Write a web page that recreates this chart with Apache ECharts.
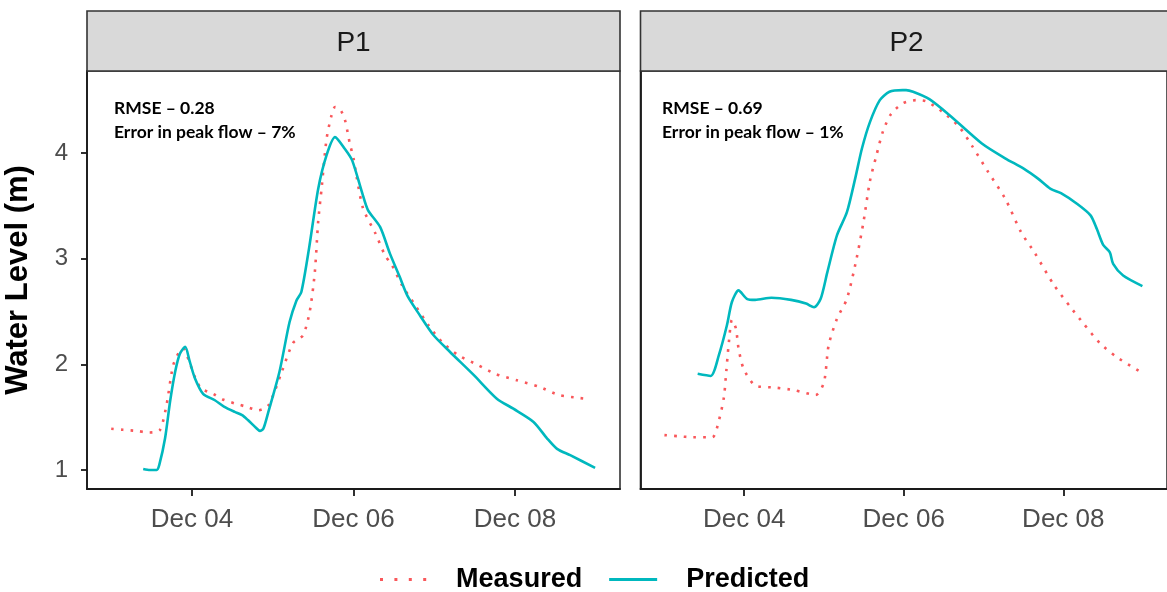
<!DOCTYPE html>
<html>
<head>
<meta charset="utf-8">
<script src="https://cdn.jsdelivr.net/npm/echarts@6/dist/echarts.min.js"></script>
<style>
  html, body { margin: 0; padding: 0; background: #fff; }
  #chart { width: 1167px; height: 592px; }
</style>
</head>
<body>
<div id="chart"></div>
<script>
// Hours after Dec 03 00:00 and water level (m) for each gauge
const p1MeasuredHours = [0, 3.5, 7.5, 11, 14.4, 16.4, 18.4, 20.4, 21.5, 22.9, 25, 26.8, 30.3, 33, 36.7, 40, 43.7, 46.7, 50.7, 54, 57, 59, 60.5, 61.5, 62.5, 64, 65.5, 66.5, 67.9, 69.4, 70.9, 72, 73, 74.9, 78.5, 81.4, 83.4, 86.4, 90.3, 94.3, 98.3, 103.2, 109.2, 114.1, 120.5, 127, 133, 139.4, 142.3];
const p1Measured = [1.39, 1.38, 1.37, 1.355, 1.375, 1.61, 1.99, 2.13, 2.15, 2.05, 1.87, 1.77, 1.72, 1.67, 1.63, 1.6, 1.565, 1.61, 1.93, 2.2, 2.275, 2.5, 2.87, 3.35, 3.66, 4.135, 4.36, 4.435, 4.42, 4.32, 4.09, 3.95, 3.76, 3.47, 3.24, 3.03, 2.94, 2.75, 2.56, 2.37, 2.21, 2.085, 1.99, 1.91, 1.85, 1.79, 1.71, 1.68, 1.67];

const p1PredictedHours = [9.5, 11.5, 13.5, 14.3, 16, 17.5, 19, 20.4, 22, 23.3, 24.9, 27.3, 30.8, 33.5, 36.7, 38.9, 40.7, 43, 44.2, 45.2, 46.7, 50, 53, 55, 56.5, 58.8, 61.5, 64, 66.5, 69.4, 71.6, 74.6, 76.3, 79.9, 82.8, 85.7, 88, 91.8, 95.8, 100.7, 107.7, 114.6, 119.5, 125.5, 129.5, 132.5, 136.4, 143.8];
const p1Predicted = [1.01, 1.0, 1.0, 1.05, 1.3, 1.65, 1.93, 2.1, 2.165, 2.03, 1.865, 1.72, 1.66, 1.6, 1.55, 1.52, 1.47, 1.4, 1.37, 1.39, 1.55, 1.93, 2.4, 2.6, 2.685, 3.1, 3.66, 3.98, 4.15, 4.04, 3.93, 3.62, 3.46, 3.3, 3.05, 2.83, 2.65, 2.46, 2.275, 2.117, 1.9, 1.675, 1.58, 1.455, 1.3, 1.2, 1.14, 1.02];

const p2MeasuredHours = [0, 4, 8.5, 14.4, 16.4, 17.9, 18.6, 19.3, 20.3, 21.5, 22.3, 23.8, 27.3, 33.2, 39.1, 45.5, 48, 49.4, 51.9, 54.9, 57.8, 59.9, 61.8, 63.8, 65.8, 68.2, 71.7, 75.7, 78.7, 83.6, 88.6, 92.5, 97.4, 102.5, 107.3, 111.3, 117.2, 122.2, 126.1, 131, 136, 142.9];
const p2Measured = [1.33, 1.32, 1.31, 1.31, 1.47, 1.69, 1.93, 2.18, 2.42, 2.34, 2.15, 1.96, 1.8, 1.78, 1.755, 1.71, 1.83, 2.18, 2.43, 2.62, 3.0, 3.35, 3.73, 3.98, 4.21, 4.37, 4.47, 4.5, 4.49, 4.39, 4.25, 4.07, 3.82, 3.57, 3.25, 3.06, 2.75, 2.54, 2.385, 2.2, 2.07, 1.935];

const p2PredictedHours = [10, 13.9, 16.4, 18.8, 20.3, 22.3, 24.8, 27.3, 32.2, 38.1, 42.6, 45, 47, 49, 51.9, 54.9, 57.4, 59.4, 61.8, 64.8, 67.7, 71.7, 72.7, 74.8, 79.7, 85.7, 95.5, 102.5, 108.2, 112.3, 116.2, 119.3, 124.1, 128.2, 130.1, 132, 134, 135, 138, 143.8];
const p2Predicted = [1.91, 1.89, 2.09, 2.37, 2.59, 2.7, 2.62, 2.61, 2.63, 2.61, 2.575, 2.54, 2.62, 2.87, 3.22, 3.44, 3.76, 4.04, 4.29, 4.5, 4.58, 4.595, 4.595, 4.58, 4.51, 4.36, 4.09, 3.95, 3.85, 3.76, 3.66, 3.62, 3.52, 3.41, 3.28, 3.13, 3.06, 2.95, 2.84, 2.74];

const panels = ['P1', 'P2'];
const rmse = ['RMSE \u2013 0.28', 'RMSE \u2013 0.69'];
const peakError = ['Error in peak flow \u2013 7%', 'Error in peak flow \u2013 1%'];
const yTicks = [1, 2, 3, 4];
const xTickDays = [4, 6, 8];   // December days labelled on the time axis

const MONTHS = ['Jan','Feb','Mar','Apr','May','Jun','Jul','Aug','Sep','Oct','Nov','Dec'];
const HOUR = 3600 * 1000;
const base = Date.UTC(2019, 11, 3);
const toPairs = (hours, vals) => hours.map((h, i) => [base + h * HOUR, vals[i]]);
const xTicks = xTickDays.map(d => Date.UTC(2019, 11, d));
const xMin = base - 7.2 * HOUR;
const xMax = base + 151.2 * HOUR;

const RED = '#F9575A';
const TEAL = '#00B8BE';
const FONT = '"Liberation Sans", Arial, sans-serif';
const NOTE_FONT = 'Lato, "Open Sans", sans-serif';

const grids = [
  { left: 87, top: 71, width: 533, height: 418 },
  { left: 640.5, top: 71, width: 532, height: 418 }
];

const chart = echarts.init(document.getElementById('chart'), null, { renderer: 'canvas' });

function fmtDate(v) {
  const d = new Date(v);
  return MONTHS[d.getUTCMonth()] + ' ' + String(d.getUTCDate()).padStart(2, '0');
}

// Millisecond timestamps on a value axis, labelled as calendar days
const xAxes = grids.map((g, i) => ({
  type: 'value', gridIndex: i, min: xMin, max: xMax, scale: true,
  axisLine: { show: true, lineStyle: { color: '#1a1a1a', width: 1.8 } },
  axisTick: { show: true, length: 7, customValues: xTicks, lineStyle: { color: '#1a1a1a', width: 1.8 } },
  axisLabel: { customValues: xTicks, formatter: fmtDate, color: '#4D4D4D', fontSize: 26, fontFamily: FONT, margin: 18 },
  splitLine: { show: false }
}));

const yAxes = grids.map((g, i) => ({
  type: 'value', gridIndex: i, min: 0.82, max: 4.776,
  name: i === 0 ? 'Water Level (m)' : '',
  nameLocation: 'middle', nameGap: 53, nameRotate: 90,
  nameTextStyle: { fontSize: 31, fontWeight: 'bold', color: '#000', fontFamily: FONT },
  axisLine: { show: true, lineStyle: { color: '#1a1a1a', width: 1.8 } },
  axisTick: { show: i === 0, length: 6, customValues: yTicks, lineStyle: { color: '#1a1a1a', width: 1.8 } },
  axisLabel: { show: i === 0, customValues: yTicks, color: '#4D4D4D', fontSize: 24, fontFamily: FONT, margin: 19 },
  splitLine: { show: false }
}));

const measuredData = [toPairs(p1MeasuredHours, p1Measured), toPairs(p2MeasuredHours, p2Measured)];
const predictedData = [toPairs(p1PredictedHours, p1Predicted), toPairs(p2PredictedHours, p2Predicted)];

const series = [];
grids.forEach((g, i) => {
  series.push({
    name: 'Measured', type: 'line', xAxisIndex: i, yAxisIndex: i,
    data: measuredData[i], symbol: 'none', smooth: 0.25,
    lineStyle: { color: RED, width: 2.6, type: [2.6, 7.1], cap: 'butt' },
    itemStyle: { color: RED }, z: 3
  });
  series.push({
    name: 'Predicted', type: 'line', xAxisIndex: i, yAxisIndex: i,
    data: predictedData[i], symbol: 'none', smooth: 0.25,
    lineStyle: { color: TEAL, width: 2.6 },
    itemStyle: { color: TEAL }, z: 4
  });
});

// Facet strips and in-panel annotations
const graphics = [];
grids.forEach((g, i) => {
  graphics.push({
    type: 'rect', z: 10,
    shape: { x: g.left, y: 11, width: g.width, height: 60 },
    style: { fill: '#D9D9D9', stroke: '#333333', lineWidth: 1.6 }
  });
  graphics.push({
    type: 'text', z: 11,
    x: g.left + g.width / 2, y: 43,
    style: { text: panels[i], fill: '#1A1A1A', fontSize: 28, fontFamily: FONT, align: 'center', verticalAlign: 'middle' }
  });
});
const noteX = [114, 662];
noteX.forEach((x, i) => {
  graphics.push({
    type: 'text', z: 11, x: x, y: 108,
    style: { text: rmse[i], fill: '#000', fontSize: 17.5, fontWeight: 'bold', fontFamily: NOTE_FONT, verticalAlign: 'middle' }
  });
  graphics.push({
    type: 'text', z: 11, x: x, y: 132,
    style: { text: peakError[i], fill: '#000', fontSize: 17.5, fontWeight: 'bold', fontFamily: NOTE_FONT, verticalAlign: 'middle' }
  });
});

chart.setOption({
  animation: false,
  backgroundColor: '#ffffff',
  grid: grids.map(g => Object.assign({ show: true, borderColor: '#333333', borderWidth: 1.6, backgroundColor: 'transparent' }, g)),
  xAxis: xAxes,
  yAxis: yAxes,
  legend: {
    left: 375, top: 561,
    itemWidth: 48, itemHeight: 3, itemGap: 27,
    data: [
      { name: 'Measured', icon: 'path://M0,0H3V3H0Z M14.4,0H17.4V3H14.4Z M28.8,0H31.8V3H28.8Z M43.2,0H46.2V3H43.2Z' },
      { name: 'Predicted', icon: 'path://M0,0H48V3H0Z' }
    ],
    textStyle: { fontSize: 27, fontWeight: 'bold', color: '#000', fontFamily: FONT, padding: [0, 0, 0, 24] }
  },
  series: series,
  graphic: graphics
});
</script>
</body>
</html>
